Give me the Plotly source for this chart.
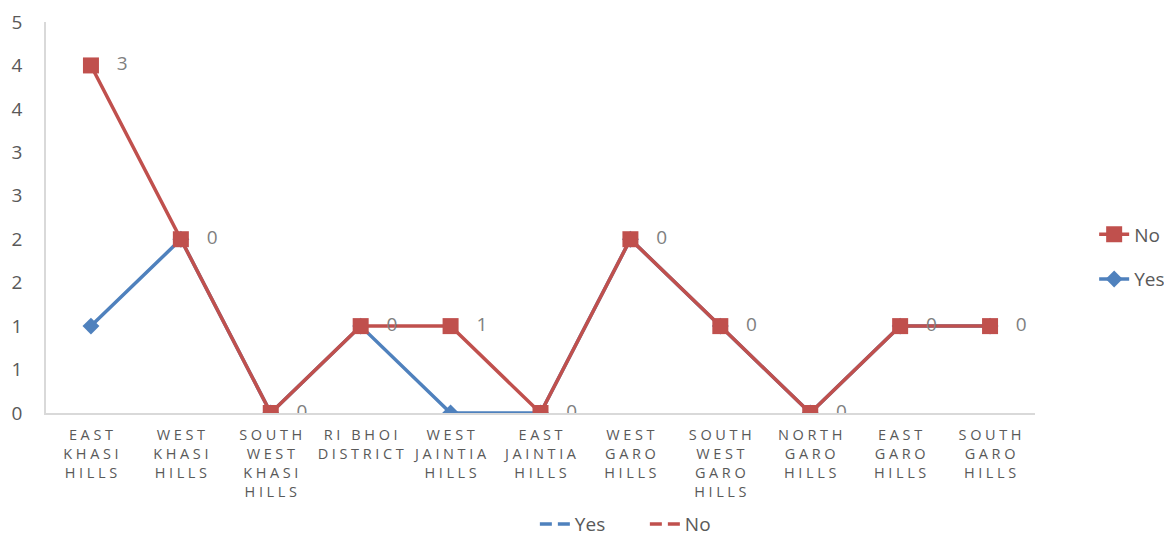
import plotly.graph_objects as go

categories = [
    "EAST<br>KHASI<br>HILLS", "WEST<br>KHASI<br>HILLS", "SOUTH<br>WEST<br>KHASI<br>HILLS",
    "RI BHOI<br>DISTRICT", "WEST<br>JAINTIA<br>HILLS", "EAST<br>JAINTIA<br>HILLS",
    "WEST<br>GARO<br>HILLS", "SOUTH<br>WEST<br>GARO<br>HILLS", "NORTH<br>GARO<br>HILLS",
    "EAST<br>GARO<br>HILLS", "SOUTH<br>GARO<br>HILLS",
]
yes_values = [1, 2, 0, 1, 0, 0, 2, 1, 0, 1, 1]
no_values = [3, 0, 0, 0, 1, 0, 0, 0, 0, 0, 0]
y_tick_vals = [0, 0.5, 1, 1.5, 2, 2.5, 3, 3.5, 4, 4.5]
y_tick_text = ["0", "1", "1", "2", "2", "3", "3", "4", "4", "5"]


def spaced(label):
    # letter-spaced look of the original category labels
    return "<br>".join("\u2005".join(line) for line in label.split("<br>"))


cats = [spaced(c) for c in categories]

BLUE = "#4F81BD"
RED = "#C0504D"
FONT = "'Open Sans', sans-serif"

fig = go.Figure()

fig.add_trace(go.Scatter(
    x=cats, y=yes_values, name="Yes", stackgroup="s", fill="none",
    mode="lines+markers", line=dict(color=BLUE, width=3.5),
    marker=dict(symbol="diamond", size=13, color=BLUE),
    legend="legend", legendgroup="yes", legendrank=2,
))
fig.add_trace(go.Scatter(
    x=cats, y=no_values, name="No", stackgroup="s", fill="none",
    mode="lines+markers+text", line=dict(color=RED, width=3.5),
    marker=dict(symbol="square", size=16, color=RED),
    text=[str(v) for v in no_values], texttemplate="   %{text}",
    textposition="middle right", textfont=dict(size=19, color="#7F7F7F", family=FONT),
    legend="legend", legendgroup="no", legendrank=1,
))

# bottom legend entries
fig.add_trace(go.Scatter(
    x=[None], y=[None], name="Yes", mode="lines",
    line=dict(color=BLUE, width=3.5, dash="12px,6px"), legend="legend2", showlegend=True,
))
fig.add_trace(go.Scatter(
    x=[None], y=[None], name="No", mode="lines",
    line=dict(color=RED, width=3.5, dash="12px,6px"), legend="legend2", showlegend=True,
))

fig.update_layout(
    width=1164, height=536,
    margin=dict(l=46, r=129, t=22, b=123),
    paper_bgcolor="white", plot_bgcolor="white",
    font=dict(family=FONT, color="#595959"),
    xaxis=dict(
        type="category", showgrid=False, showline=True, linecolor="#D9D9D9", linewidth=1.5,
        ticks="", tickfont=dict(size=14.5, color="#595959", family=FONT), tickangle=0,
        range=[-0.5, len(categories) - 0.5], zeroline=False, automargin=False,
        ticklabelstandoff=8,
    ),
    yaxis=dict(
        range=[0, 4.5], tickvals=y_tick_vals, ticktext=y_tick_text,
        showgrid=False, showline=True, linecolor="#D9D9D9", linewidth=1.5,
        zeroline=False, ticks="", ticklabelstandoff=18, automargin=False,
        tickfont=dict(size=19, color="#595959", family=FONT),
    ),
    legend=dict(
        xref="container", yref="container",
        x=0.94, y=0.5205, xanchor="left", yanchor="middle", traceorder="grouped",
        font=dict(size=19, color="#595959", family=FONT), tracegroupgap=17,
        bgcolor="rgba(0,0,0,0)",
    ),
    legend2=dict(
        xref="container", yref="container",
        orientation="h", x=0.554, y=0.022, xanchor="center", yanchor="middle",
        entrywidth=65, entrywidthmode="pixels",
        font=dict(size=19, color="#595959", family=FONT), bgcolor="rgba(0,0,0,0)",
    ),
)

fig.write_html("out.html")
